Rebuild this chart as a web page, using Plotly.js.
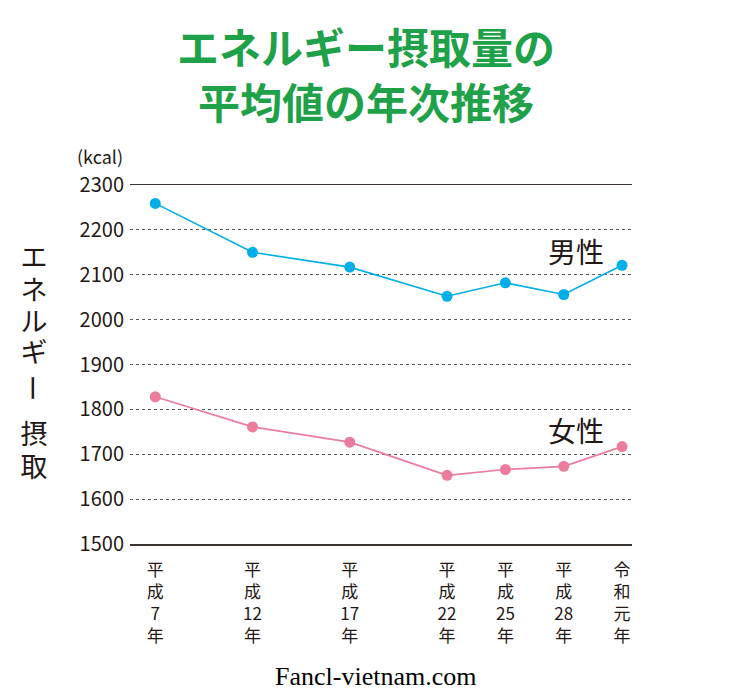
<!DOCTYPE html>
<html>
<head>
<meta charset="utf-8">
<script src="https://cdn.plot.ly/plotly-3.0.1.min.js"></script>
<style>html,body{margin:0;padding:0;background:#fff;}#chart{width:750px;height:692px;}</style>
</head>
<body>
<div id="chart"></div>
<script>
// Data
const years = [1995, 2000, 2005, 2010, 2013, 2016, 2019];
const yearLabels = ["平<br>成<br>7<br>年", "平<br>成<br>12<br>年", "平<br>成<br>17<br>年", "平<br>成<br>22<br>年", "平<br>成<br>25<br>年", "平<br>成<br>28<br>年", "令<br>和<br>元<br>年"];
const maleValues = [2259, 2150, 2117, 2052, 2082, 2056, 2121];
const femaleValues = [1828, 1761, 1727, 1653, 1666, 1673, 1717];
const yTicks = [1500, 1600, 1700, 1800, 1900, 2000, 2100, 2200, 2300];
const seriesNames = ["男性", "女性"];
const yTitleChars = ["エ", "ネ", "ル", "ギ", "ー", "摂", "取"];

const jp = '"Noto Sans CJK JP", "Noto Sans", sans-serif';
const ink = '#231815';

const traces = [
  {x: years, y: maleValues, name: seriesNames[0], mode: 'lines+markers', type: 'scatter',
   line: {color: '#00aee9', width: 1.6}, marker: {color: '#00aee9', size: 11}, cliponaxis: false},
  {x: years, y: femaleValues, name: seriesNames[1], mode: 'lines+markers', type: 'scatter',
   line: {color: '#ec7c9d', width: 1.6}, marker: {color: '#ec7c9d', size: 11}, cliponaxis: false}
];

// pixel helpers for layout placement (plot area 130..632 x, 185..544 y)
const px = (x) => (x - 130) / 502;
const py = (y) => (544 - y) / 359;

// vertical y-axis title, one character per annotation
const yCharCenters = [255, 288, 320, 350, 388, 432, 465];
const yTitleAnns = yTitleChars.map((c, i) => ({
  text: c, textangle: c === 'ー' ? 90 : 0,
  xref: 'paper', yref: 'paper', x: px(34), y: py(yCharCenters[i]),
  xanchor: 'center', yanchor: 'middle', showarrow: false,
  width: 30, height: 29,
  font: {family: jp, size: 27, color: ink}
}));

const layout = {
  width: 750, height: 692,
  margin: {l: 130, r: 118, t: 185, b: 148},
  paper_bgcolor: '#fff', plot_bgcolor: '#fff',
  showlegend: false,
  title: {
    text: '<b>エネルギー摂取量の<br>平均値の年次推移</b>',
    font: {family: jp, size: 42, color: '#1fa14a'},
    x: 366 / 750, xref: 'container', xanchor: 'center',
    y: 1 - 64 / 692, yref: 'container', yanchor: 'middle'
  },
  xaxis: {
    type: 'linear', range: [1993.7, 2019.51],
    tickmode: 'array', tickvals: years, ticktext: yearLabels,
    tickfont: {family: jp, size: 17, color: ink},
    showgrid: false, zeroline: false,
    showline: true, mirror: true, linecolor: '#3a3330', linewidth: 1.5,
    ticks: '', ticklabelstandoff: 10, fixedrange: true
  },
  yaxis: {
    range: [1500, 2300], tickmode: 'array', tickvals: yTicks,
    tickfont: {family: jp, size: 20, color: ink},
    showgrid: true, gridcolor: '#5a5a5a', griddash: 'dot', gridwidth: 1,
    zeroline: false, showline: false, ticks: '', ticklabelstandoff: 5, fixedrange: true
  },
  annotations: yTitleAnns.concat([
    {text: '(kcal)', xref: 'paper', yref: 'paper', x: px(125), y: py(156), xanchor: 'right', yanchor: 'middle',
     showarrow: false, font: {family: jp, size: 18, color: ink}},
    {text: seriesNames[0], xref: 'paper', yref: 'paper', x: px(576), y: py(251), xanchor: 'center', yanchor: 'middle',
     showarrow: false, font: {family: jp, size: 28, color: ink}},
    {text: seriesNames[1], xref: 'paper', yref: 'paper', x: px(576), y: py(430), xanchor: 'center', yanchor: 'middle',
     showarrow: false, font: {family: jp, size: 28, color: ink}},
    {text: 'Fancl-vietnam.com', xref: 'paper', yref: 'paper', x: px(375), y: py(676), xanchor: 'center', yanchor: 'middle',
     showarrow: false, font: {family: '"Liberation Serif", "Times New Roman", serif', size: 26, color: '#000'}}
  ])
};

Plotly.newPlot('chart', traces, layout, {displayModeBar: false, staticPlot: true});
</script>
</body>
</html>
